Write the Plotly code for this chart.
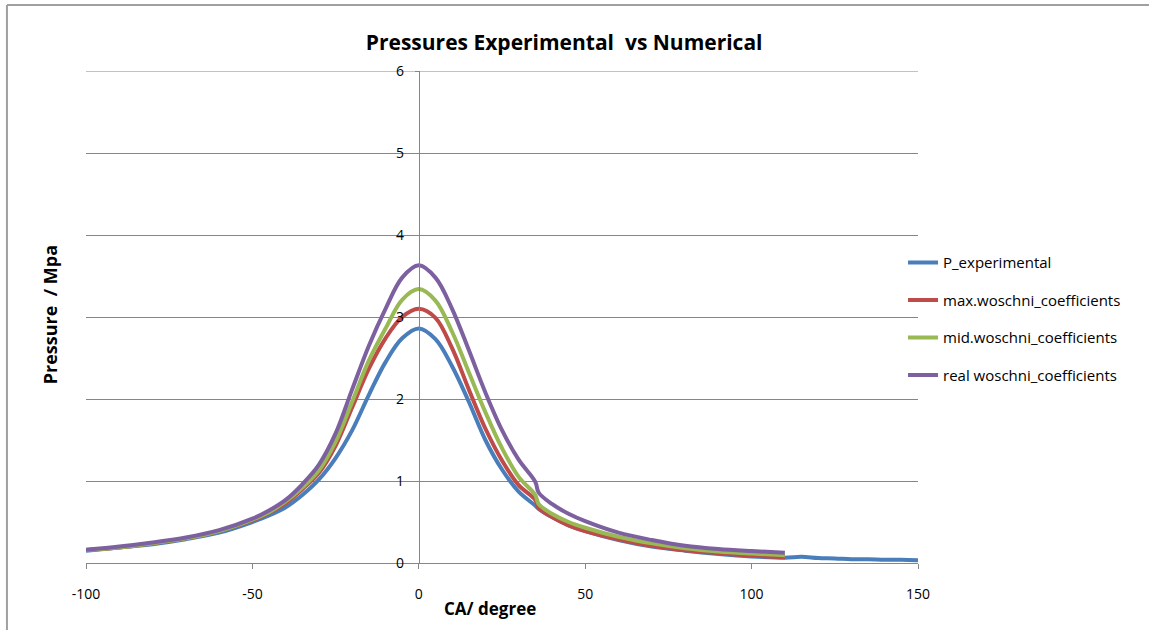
import plotly.graph_objects as go

# Crank angle (degrees) and cylinder pressure (MPa)
ca_model = [-100, -90, -80, -70, -60, -50, -45, -40, -35, -30, -25, -20, -15, -10, -5,
            0, 5, 10, 15, 20, 25, 30, 35, 36, 40, 45, 50, 60, 70, 80, 90, 100, 110]

ca_exp = ca_model + [115, 120, 125, 130, 135, 140, 145, 150]

p_experimental = [0.15, 0.19, 0.23, 0.29, 0.37, 0.50, 0.58, 0.68, 0.83, 1.02, 1.28, 1.62, 2.05, 2.45, 2.74,
                  2.86, 2.73, 2.40, 1.97, 1.50, 1.14, 0.87, 0.70, 0.66, 0.56, 0.46, 0.39, 0.28, 0.20, 0.15, 0.11, 0.08, 0.065,
                  0.075, 0.06, 0.055, 0.045, 0.045, 0.04, 0.04, 0.035]

p_max_woschni = [0.16, 0.19, 0.24, 0.30, 0.39, 0.52, 0.61, 0.73, 0.90, 1.10, 1.43, 1.90, 2.37, 2.74, 3.00,
                 3.10, 2.99, 2.62, 2.12, 1.64, 1.25, 0.95, 0.77, 0.67, 0.56, 0.46, 0.39, 0.29, 0.21, 0.155, 0.12, 0.09, 0.07]

p_mid_woschni = [0.16, 0.19, 0.24, 0.30, 0.39, 0.53, 0.62, 0.75, 0.92, 1.13, 1.48, 1.97, 2.47, 2.86, 3.21,
                 3.34, 3.20, 2.82, 2.33, 1.84, 1.40, 1.05, 0.83, 0.72, 0.60, 0.50, 0.43, 0.32, 0.24, 0.18, 0.14, 0.115, 0.095]

p_real_woschni = [0.16, 0.20, 0.25, 0.31, 0.40, 0.54, 0.64, 0.77, 0.96, 1.20, 1.58, 2.12, 2.65, 3.10, 3.48,
                  3.63, 3.48, 3.10, 2.60, 2.08, 1.62, 1.26, 0.99, 0.86, 0.72, 0.60, 0.51, 0.37, 0.28, 0.21, 0.17, 0.145, 0.125]

x_ticks = [-100, -50, 0, 50, 100, 150]
x_tick_text = ["-100", "-50", "0", "50", "100", "150"]
y_ticks = [0, 1, 2, 3, 4, 5, 6]

series = [
    ("P_experimental", ca_exp, p_experimental, "#4A7EBB"),
    ("max.woschni_coefficients", ca_model, p_max_woschni, "#BE4B48"),
    ("mid.woschni_coefficients", ca_model, p_mid_woschni, "#98B954"),
    ("real woschni_coefficients", ca_model, p_real_woschni, "#7D60A0"),
]

FONT = "Open Sans"
GRID = "#868686"

fig = go.Figure()
for name, xs, ys, color in series:
    fig.add_trace(go.Scatter(
        x=xs, y=ys, name=name, mode="lines", legendgroup=name,
        line=dict(color=color, width=4, shape="spline", smoothing=1.0),
    ))

fig.update_layout(
    width=1149, height=630,
    margin=dict(l=86, r=231, t=71, b=67),
    paper_bgcolor="white", plot_bgcolor="white",
    font=dict(family=FONT, color="#000000", size=13),
    title=dict(text="Pressures Experimental  vs Numerical", x=0.491, xref="container",
               y=0.933, yanchor="middle", xanchor="center",
               font=dict(family=FONT, size=21, weight="bold", color="#000000")),
    showlegend=True,
    legend=dict(x=0.982, xanchor="left", y=0.644, yanchor="top",
                traceorder="grouped", tracegroupgap=15,
                font=dict(family=FONT, size=15, color="#000000"),
                bgcolor="rgba(0,0,0,0)"),
    xaxis=dict(range=[-100, 150], tickvals=x_ticks, ticktext=x_tick_text,
               showgrid=False, zeroline=False,
               showline=True, linecolor=GRID, linewidth=1,
               ticks="outside", ticklen=5, tickcolor=GRID,
               ticklabelstandoff=13,
               tickfont=dict(family=FONT, size=14, color="#000000")),
    yaxis=dict(range=[0, 6], tickvals=y_ticks, showgrid=True, gridcolor=GRID, gridwidth=1,
               zeroline=False, anchor="free", position=0.4,
               showline=True, linecolor=GRID, linewidth=1,
               ticks="outside", ticklen=4, tickcolor=GRID,
               ticklabelstandoff=8,
               tickfont=dict(family=FONT, size=14, color="#000000")),
    annotations=[
        dict(text="Pressure  / Mpa", xref="paper", yref="paper", x=-0.043, y=0.504,
             textangle=-90, showarrow=False, xanchor="center", yanchor="middle",
             font=dict(family=FONT, size=18, weight="bold", color="#000000")),
        dict(text="CA/ degree", xref="paper", yref="paper", x=0.486, y=-0.0915,
             showarrow=False, xanchor="center", yanchor="middle",
             font=dict(family=FONT, size=17, weight="bold", color="#000000")),
    ],
    shapes=[
        # top gridline at the upper end of the pressure range
        dict(type="line", xref="paper", yref="y", x0=0, x1=1, y0=y_ticks[-1], y1=y_ticks[-1],
             line=dict(color=GRID, width=1), layer="below"),
        # outer chart frame
        dict(type="line", xref="paper", yref="paper", x0=-0.095, x1=-0.095, y0=-0.14, y1=1.134,
             line=dict(color="#A0A0A0", width=2)),
        dict(type="line", xref="paper", yref="paper", x0=-0.095, x1=1.3, y0=1.134, y1=1.134,
             line=dict(color="#A0A0A0", width=2)),
    ],
)

fig.write_html("out.html")
